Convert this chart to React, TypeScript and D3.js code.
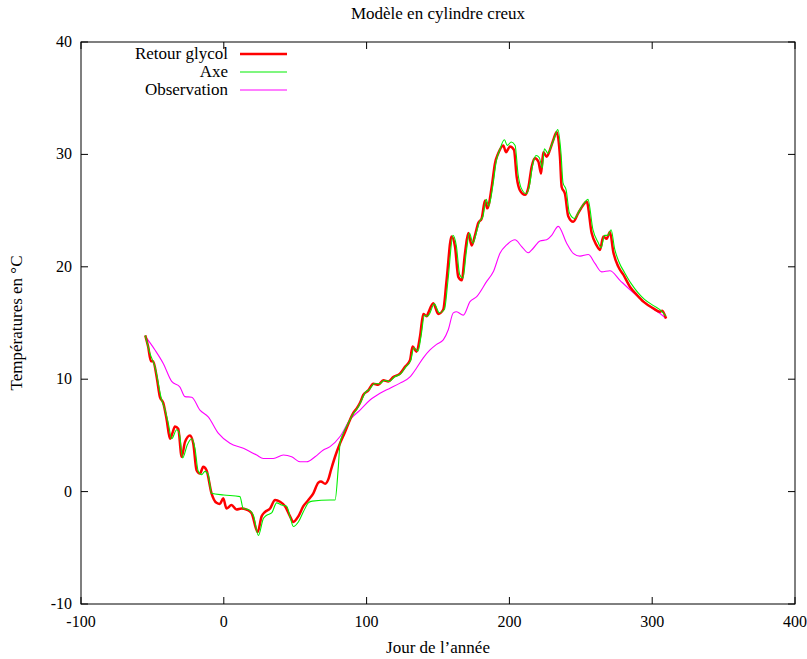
import React from "react";
import * as d3 from "d3";

const title = "Modèle en cylindre creux";
const xLabel = "Jour de l’année";
const yLabel = "Températures en °C";
const xTicks = [-100, 0, 100, 200, 300, 400];
const yTicks = [-10, 0, 10, 20, 30, 40];
const seriesNames = ["Retour glycol", "Axe", "Observation"];

const retourGlycol: [number, number][] = [
  [-55, 13.9], [-53, 12.9], [-51, 11.6], [-49.5, 11.6], [-47, 10.2], [-44.7, 8.4], [-42.4, 7.9], [-40, 6.4], [-37.7, 4.7], [-36, 5.2],
  [-34.2, 5.8], [-31.9, 5.6], [-29.5, 3.1], [-27.2, 4.4], [-23.7, 5.0], [-21.4, 4.3], [-19.1, 1.9], [-16.7, 1.6], [-14.4, 2.2], [-12.1, 1.9],
  [-8.6, -0.15], [-5.1, -1.0], [-2.8, -1.1], [-0.4, -0.6], [1.9, -1.5], [5.4, -1.2], [8.9, -1.6], [12.4, -1.5], [15.9, -1.6], [19.4, -1.9],
  [23.7, -3.6], [26.5, -2.2], [28.9, -1.8], [32.4, -1.5], [35.9, -0.75], [39.4, -0.9], [42.9, -1.3], [46.4, -2.2], [48.7, -2.7], [52.2, -2.2],
  [55.7, -1.3], [59.2, -0.75], [62.7, -0.15], [66.2, 0.8], [68, 0.9], [71, 0.7], [73.5, 1.2], [75, 1.9], [77.9, 3.1], [81.4, 4.3],
  [84.9, 5.3], [88.4, 6.4], [90.7, 7.0], [93.1, 7.4], [95.4, 7.9], [97.7, 8.6], [101.2, 9.0], [104.7, 9.6], [108.2, 9.5], [111.7, 9.9],
  [115.2, 9.8], [118.7, 10.2], [123.4, 10.5], [126.9, 11.1], [130.4, 11.7], [132.2, 12.9], [135, 12.45], [137.4, 13.8], [139.7, 15.8], [142.1, 15.6],
  [143.2, 15.9], [146.7, 16.75], [150.2, 15.8], [153.7, 16.2], [156, 18.8], [159.5, 22.7], [161.9, 21.8], [164.2, 19.1], [166.6, 18.8], [168.9, 21.2],
  [171.2, 23.0], [173.6, 21.9], [175.9, 22.8], [178.2, 23.9], [180.6, 24.3], [182.9, 25.9], [184.5, 25.2], [187.6, 27.1], [189.9, 29.2], [192.2, 30.1],
  [195.7, 30.8], [197.6, 30.2], [200.4, 30.7], [203.2, 30.4], [205.1, 28.0], [207.4, 26.8], [210.9, 26.4], [213.2, 27.0], [215.6, 28.9], [217.9, 29.65],
  [220.3, 29.35], [222.2, 28.3], [223.7, 30.2], [226.1, 29.8], [228.4, 30.4], [230.8, 31.3], [233.1, 32.0], [235.4, 29.8], [236.6, 27.1], [238.9, 26.5],
  [241.2, 24.5], [244.7, 24.0], [248.3, 24.8], [251.7, 25.5], [254.1, 25.8], [257.6, 23.0], [261.1, 21.9], [263.4, 21.5], [265.8, 22.7], [268.1, 22.5],
  [270.4, 23.1], [272.8, 21.3], [276.3, 20.0], [279.8, 19.3], [284.5, 18.2], [289.2, 17.5], [293.8, 16.9], [300.8, 16.3], [305.5, 16.0], [307, 16.1],
  [309.7, 15.4],
];

const axe: [number, number][] = [
  [-55, 13.9], [-51.7, 12.3], [-48.2, 11.1], [-43.5, 8.15], [-41.2, 7.3], [-38.9, 6.1], [-36.5, 4.7], [-33, 5.5], [-31.2, 5.2], [-28.8, 3.0],
  [-25.6, 4.15], [-22.5, 4.7], [-20.2, 3.85], [-17.9, 1.8], [-15.5, 1.5], [-13.2, 1.8], [-10.9, 1.5], [-8.6, -0.15], [0, -0.3], [11.3, -0.45],
  [13.6, -1.5], [17.2, -1.6], [20.7, -2.1], [24.2, -3.9], [27.7, -2.4], [30, -2.1], [33.5, -1.9], [37, -1.0], [40.5, -1.2], [44, -1.3],
  [46.5, -2.3], [48.7, -3.1], [52.2, -2.7], [55.7, -1.8], [59.2, -1.0], [62, -0.85], [74.4, -0.75], [77.9, -0.75], [80.2, 2.2], [81.4, 4.3],
  [83.7, 5.2], [87.2, 6.1], [90, 6.8], [94, 7.5], [96, 8.0], [99, 8.8], [102, 9.1], [105.5, 9.6], [109, 9.6], [112.5, 9.9],
  [116, 9.8], [119.5, 10.2], [124, 10.5], [127.5, 11.1], [131, 11.7], [133, 12.8], [136, 12.5], [138.2, 13.9], [140.5, 15.7], [142.8, 15.6],
  [144, 15.8], [147.4, 16.7], [151, 15.9], [154.5, 16.2], [157, 18.8], [160.5, 22.8], [162.8, 21.9], [165.2, 19.3], [167.5, 19.0], [169.8, 21.3],
  [172, 23.0], [174.5, 22.1], [176.8, 23.0], [179, 24.0], [181.5, 24.5], [183.8, 26.0], [185.4, 25.4], [188.5, 27.3], [190.8, 29.4], [193.2, 30.4],
  [196.5, 31.3], [198.5, 30.8], [201.3, 31.1], [204, 30.8], [206, 28.3], [208.3, 27.0], [211.8, 26.5], [214, 27.2], [216.5, 29.2], [218.7, 29.9],
  [221, 29.7], [223, 28.8], [224.5, 30.5], [227, 30.1], [229.2, 30.7], [231.6, 31.5], [233.9, 32.2], [236.2, 30.0], [237.5, 27.5], [239.8, 26.8],
  [242, 24.8], [245.5, 24.3], [249, 25.0], [252.5, 25.7], [255, 26.0], [258.5, 23.3], [262, 22.2], [264.3, 21.7], [266.6, 22.8], [269, 22.8],
  [271.2, 23.3], [273.7, 21.6], [277.2, 20.3], [280.6, 19.5], [285.3, 18.5], [290, 17.7], [294.6, 17.1], [301.5, 16.5], [306.2, 16.1], [309.7, 15.6],
];

const observation: [number, number][] = [
  [-55.2, 13.85], [-48.2, 12.6], [-42.4, 11.4], [-36.5, 9.8], [-30.7, 9.3], [-27.2, 8.45], [-22.5, 8.4], [-16.7, 7.25], [-10.9, 6.65], [-3.9, 5.2],
  [4.3, 4.3], [13.7, 3.85], [23, 3.25], [27.7, 2.95], [34.7, 2.95], [41.7, 3.25], [47.5, 3.1], [53.4, 2.65], [58, 2.65], [63.9, 3.1],
  [69.7, 3.7], [74.4, 4.0], [81.4, 4.9], [88.4, 6.4], [95.4, 7.25], [102.4, 8.15], [109.4, 8.75], [116.4, 9.2], [123.4, 9.65], [130.4, 10.2],
  [135, 11.0], [139.7, 11.9], [144.4, 12.6], [149, 13.1], [153.7, 13.5], [157.2, 14.4], [160.7, 15.9], [163, 16.0], [167.7, 15.7], [172.4, 16.9],
  [177.1, 17.35], [184.1, 18.7], [188.7, 19.55], [193.4, 21.2], [198.1, 21.95], [203.9, 22.4], [208.6, 21.8], [213.2, 21.25], [216.7, 21.65], [221.4, 22.3],
  [226.1, 22.4], [229.6, 22.8], [234.2, 23.6], [240.1, 22.1], [244.7, 21.2], [249.4, 20.95], [255.3, 21.1], [259.9, 20.3], [264.6, 19.55], [270.4, 19.65],
  [277.4, 18.8], [284.5, 17.95], [291.5, 17.2], [298.5, 16.45], [305.5, 15.85], [309.7, 15.4],
];

const W = 807;
const H = 659;
const left = 81, right = 795, top = 42, bottom = 604;
const FONT = "'Liberation Serif', 'DejaVu Serif', serif";

export default function App() {
  const x = d3.scaleLinear().domain([-100, 400]).range([left, right]);
  const y = d3.scaleLinear().domain([-10, 40]).range([bottom, top]);
  const line = d3.line<[number, number]>().x((d) => x(d[0])).y((d) => y(d[1])).curve(d3.curveMonotoneX);
  const series = [
    { name: seriesNames[0], color: "#ff0000", width: 2.5 },
    { name: seriesNames[1], color: "#00ee00", width: 1.2 },
    { name: seriesNames[2], color: "#ff00ff", width: 1.2 },
  ];
  const tick = 7;
  return (
    <svg width={W} height={H} style={{ position: "absolute", left: 0, top: 0, background: "#fff" }} fontFamily={FONT}>
      <rect x={0} y={0} width={W} height={H} fill="#fff" />
      <text x={438} y={19} textAnchor="middle" fontSize={17}>{title}</text>
      <g fill="none" strokeLinejoin="round">
        <path d={line(observation) || ""} stroke="#ff00ff" strokeWidth={1.1} />
        <path d={line(retourGlycol) || ""} stroke="#ff0000" strokeWidth={2.5} />
        <path d={line(axe) || ""} stroke="#00ee00" strokeWidth={1.1} />
      </g>
      <rect x={left} y={top} width={right - left} height={bottom - top} fill="none" stroke="#000" strokeWidth={1} />
      {xTicks.map((t) => (
        <g key={"x" + t}>
          <line x1={x(t)} x2={x(t)} y1={bottom} y2={bottom - tick} stroke="#000" />
          <line x1={x(t)} x2={x(t)} y1={top} y2={top + tick} stroke="#000" />
          <text x={x(t)} y={bottom + 23} textAnchor="middle" fontSize={16}>{t}</text>
        </g>
      ))}
      {yTicks.map((t) => (
        <g key={"y" + t}>
          <line x1={left} x2={left + tick} y1={y(t)} y2={y(t)} stroke="#000" />
          <line x1={right} x2={right - tick} y1={y(t)} y2={y(t)} stroke="#000" />
          <text x={left - 9} y={y(t) + 5} textAnchor="end" fontSize={16}>{t}</text>
        </g>
      ))}
      <text x={438} y={653} textAnchor="middle" fontSize={17}>{xLabel}</text>
      <text transform={`translate(22,${323}) rotate(-90)`} textAnchor="middle" fontSize={17}>{yLabel}</text>
      {series.map((s, i) => (
        <g key={s.name}>
          <text x={228} y={59 + i * 18} textAnchor="end" fontSize={17}>{s.name}</text>
          <line x1={240} x2={287} y1={54 + i * 18} y2={54 + i * 18} stroke={s.color} strokeWidth={s.width} />
        </g>
      ))}
    </svg>
  );
}
